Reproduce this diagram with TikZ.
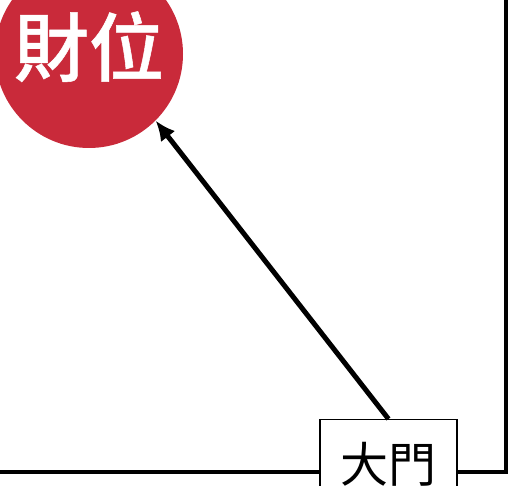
\documentclass[tikz,border=0pt]{standalone}
\usepackage{fontspec}
\newfontfamily\cjk{Noto Sans CJK TC}
\newfontfamily\cjkmed{Noto Sans CJK TC Medium}[FakeBold=0.7]
\usetikzlibrary{arrows.meta}
\definecolor{wealthred}{RGB}{201,42,58}

\begin{document}
\begin{tikzpicture}[x=1pt, y=-1pt]
	\useasboundingbox (0,0) rectangle (508,486);
	\clip (0,0) rectangle (508,486);
	\draw[line width=4.5pt] (-5,472) -- (506,472) -- (506,-5);
	\node[circle, fill=wealthred, minimum size=188pt, text=white, text height=66pt, text depth=23pt, font=\cjkmed\fontsize{75}{75}\selectfont] (wealth) at (89,54) {財位};
	\node[draw, fill=white, line width=1.4pt, minimum width=137pt, minimum height=90pt, anchor=north, font=\cjk\fontsize{48}{48}\selectfont] (door) at (388.5,419) {大門};
	\draw[line width=5pt, -{Latex[length=20pt,width=18pt]}] (door.north) -- (wealth.-45);
\end{tikzpicture}
\end{document}
